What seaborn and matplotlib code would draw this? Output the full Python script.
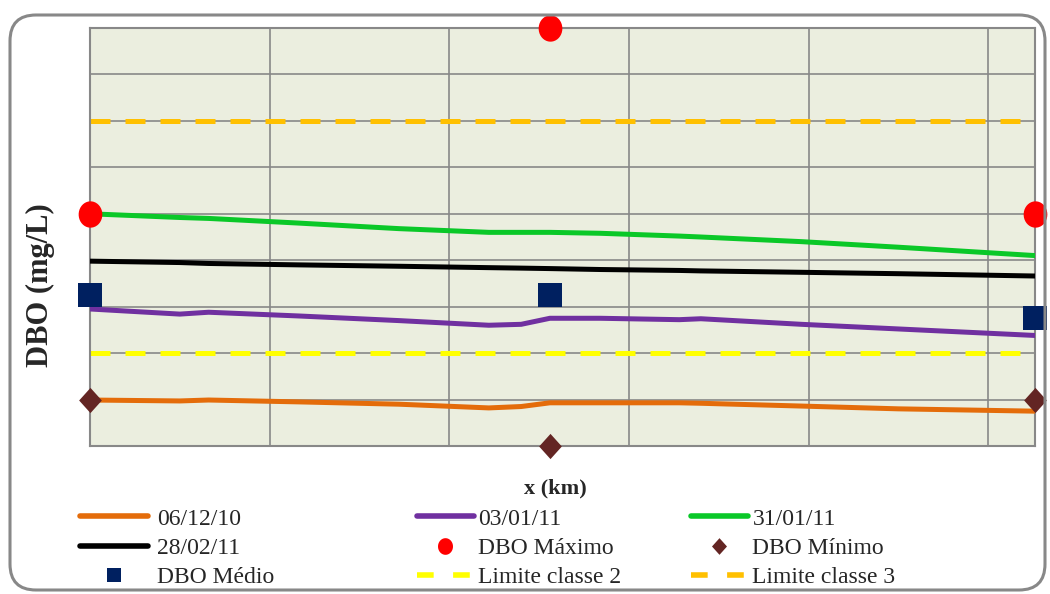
import seaborn as sns
import matplotlib.pyplot as plt
import pandas as pd
import numpy as np
from matplotlib.lines import Line2D
from matplotlib.patches import FancyBboxPatch
from matplotlib.path import Path
from matplotlib.transforms import IdentityTransform

# distance along the river (km) and DBO profiles (mg/L)
x_km = [0, 2.5, 3.3, 5.8, 8.6, 11.1, 12.0, 12.8, 14.2, 16.4, 17.0, 19.8, 22.5, 26.3]
dbo_061210 = [3.99, 3.97, 3.99, 3.95, 3.90, 3.82, 3.85, 3.93, 3.93, 3.93, 3.92, 3.86, 3.80, 3.75]
dbo_030111 = [5.95, 5.84, 5.88, 5.80, 5.70, 5.60, 5.62, 5.75, 5.75, 5.72, 5.74, 5.62, 5.52, 5.38]
dbo_310111 = [8.00, 7.92, 7.90, 7.80, 7.68, 7.60, 7.60, 7.60, 7.58, 7.52, 7.50, 7.40, 7.28, 7.10]
dbo_280211 = [6.98, 6.95, 6.93, 6.90, 6.87, 6.84, 6.83, 6.82, 6.80, 6.78, 6.77, 6.74, 6.71, 6.66]

# measured stations
x_obs = [0, 12.8, 26.3]
dbo_max = [8.0, 12.0, 8.0]
dbo_min = [4.0, 3.0, 4.0]
dbo_med = [6.25, 6.25, 5.75]

limite_classe2 = 5
limite_classe3 = 10

line_series = [
    ("06/12/10", dbo_061210, "#E46C0A"),
    ("03/01/11", dbo_030111, "#7030A0"),
    ("31/01/11", dbo_310111, "#0AC828"),
    ("28/02/11", dbo_280211, "#000000"),
]

sns.set_style("white")
plt.rcParams["font.family"] = ["Liberation Serif", "DejaVu Serif"]

# tall ellipse and tall diamond markers, like the original
t = np.linspace(0, 2 * np.pi, 40)
ellipse = Path(np.column_stack([0.9 * np.cos(t), np.sin(t)]), closed=True)
tall_diamond = Path([(0, 1), (0.9, 0), (0, -1), (-0.9, 0), (0, 1)], closed=True)

W, H, DPI = 1050, 594, 100
fig = plt.figure(figsize=(W / DPI, H / DPI), dpi=DPI)
ax = fig.add_axes([90 / W, 1 - 446 / H, 945 / W, 418 / H])
ax.set_facecolor("#EBEEDF")

ax.axhline(limite_classe2, color="#FFFF00", lw=3.6, dashes=(4, 3), zorder=2)
ax.axhline(limite_classe3, color="#FFC000", lw=3.6, dashes=(4, 3), zorder=2)

for label, vals, col in line_series:
    df = pd.DataFrame({"x": x_km, "y": vals})
    sns.lineplot(data=df, x="x", y="y", color=col, lw=3.6, ax=ax, zorder=3)

obs = pd.DataFrame({"x": x_obs, "max": dbo_max, "min": dbo_min, "med": dbo_med})
sns.scatterplot(data=obs, x="x", y="max", ax=ax, color="#FF0000", marker=ellipse,
                s=360, linewidth=0, zorder=4, clip_on=False)
sns.scatterplot(data=obs, x="x", y="min", ax=ax, color="#632523", marker=tall_diamond,
                s=330, linewidth=0, zorder=4, clip_on=False)
sns.scatterplot(data=obs, x="x", y="med", ax=ax, color="#002060", marker="s",
                s=290, linewidth=0, zorder=4, clip_on=False)

ax.set_xlim(0, 26.3)
ax.set_ylim(3, 12)
ax.set_xticks(np.arange(0, 26.3, 5))
ax.set_yticks(np.arange(3, 12.1, 1))
ax.set_xticklabels([])
ax.set_yticklabels([])
ax.tick_params(length=0)
ax.grid(True, color="#888888", lw=1.2)
ax.set_axisbelow(True)
for sp in ax.spines.values():
    sp.set_color("#888888")
    sp.set_linewidth(1.5)
ax.set_xlabel("")
ax.set_ylabel("")

fig.text(40 / W, 1 - 285 / H, "DBO (mg/L)", rotation=90, ha="center", va="center",
         fontsize=22, fontweight="bold")
fig.text(555 / W, 1 - 488 / H, "x (km)", ha="center", va="center",
         fontsize=16, fontweight="bold")

# legend, three columns
def lh(col, ls="-", marker=None, ms=0):
    if marker is not None:
        return Line2D([], [], color=col, ls="none", marker=marker, ms=ms, mew=0)
    if ls == "--":
        return Line2D([], [], color=col, lw=4, dashes=(3, 3.5))
    return Line2D([], [], color=col, lw=4)

columns = [
    ([lh("#E46C0A"), lh("#000000"), lh("#002060", marker="s", ms=10)],
     ["06/12/10", "28/02/11", "DBO Médio"], 80, 2.9, 0.35),
    ([lh("#7030A0"), lh("#FF0000", marker=ellipse, ms=12), lh("#FFFF00", "--")],
     ["03/01/11", "DBO Máximo", "Limite classe 2"], 417, 2.4, 0.2),
    ([lh("#0AC828"), lh("#632523", marker=tall_diamond, ms=12), lh("#FFC000", "--")],
     ["31/01/11", "DBO Mínimo", "Limite classe 3"], 691, 2.4, 0.2),
]
for handles, labels, xpx, hl, tp in columns:
    fig.legend(handles, labels, loc="upper left",
               bbox_to_anchor=(xpx / W, 1 - 508 / H), frameon=False,
               fontsize=17, handlelength=hl, handletextpad=tp,
               labelspacing=0.33, borderpad=0, borderaxespad=0)

frame = FancyBboxPatch((10, 4), 1035, 575, boxstyle="round,pad=0,rounding_size=26",
                       transform=IdentityTransform(), fill=False,
                       edgecolor="#888888", lw=2.2, clip_on=False)
fig.patches.append(frame)

fig.savefig("out.png", dpi=DPI)
plt.close(fig)
